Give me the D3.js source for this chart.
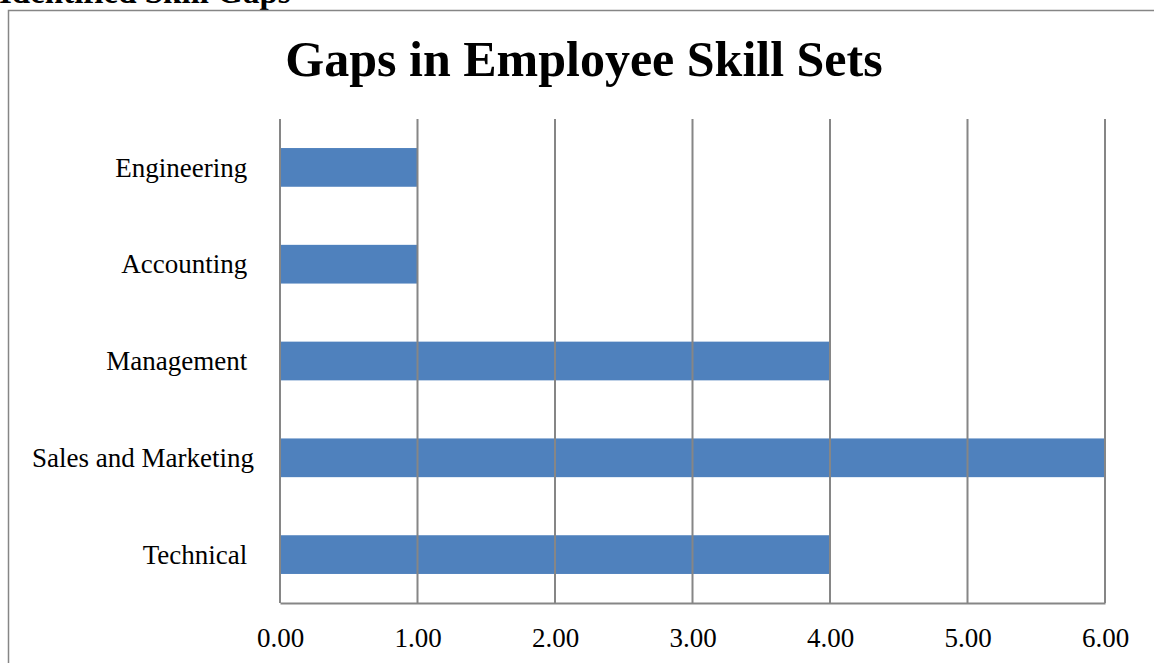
<!DOCTYPE html>
<html>
<head>
<meta charset="utf-8">
<script src="https://cdn.jsdelivr.net/npm/d3@7"></script>
<style>
  html, body { margin: 0; padding: 0; background: #fff; }
  svg { display: block; }
</style>
</head>
<body>
<svg id="chart" width="1154" height="663"></svg>
<script>
// Skill-gap counts by department, listed top to bottom
const categories = ["Engineering ", "Accounting ", "Management ", "Sales and Marketing", "Technical "];
const gapCounts = [1, 1, 4, 6, 4];
const tickValues = [0, 1, 2, 3, 4, 5, 6];

const svg = d3.select("#chart");
const serif = "'Liberation Serif', 'DejaVu Serif', serif";

// Section heading above the chart frame (partly cut off by the page top)
svg.append("text")
  .attr("x", -1).attr("y", 3)
  .attr("font-family", serif).attr("font-weight", "bold")
  .attr("font-size", 33).attr("fill", "#000")
  .text("Identified Skill Gaps");

// Chart frame
svg.append("rect")
  .attr("x", 8.5).attr("y", 10.5)
  .attr("width", 1160).attr("height", 700)
  .attr("fill", "#fff").attr("stroke", "#868686").attr("stroke-width", 1.5);

// Title
svg.append("text")
  .attr("x", 584).attr("y", 76)
  .attr("text-anchor", "middle")
  .attr("font-family", serif).attr("font-weight", "bold")
  .attr("font-size", 50).attr("fill", "#000")
  .text("Gaps in Employee Skill Sets");

const plot = { left: 280, right: 1105, top: 119, bottom: 603 };

const x = d3.scaleLinear().domain([0, 6]).range([plot.left, plot.right]);
const y = d3.scaleBand().domain(categories).range([plot.top, plot.bottom]).paddingInner(0.6).paddingOuter(0.3);

// Bars
svg.append("g").selectAll("rect")
  .data(categories)
  .join("rect")
  .attr("x", x(0))
  .attr("y", d => y(d))
  .attr("width", (d, i) => x(gapCounts[i]) - x(0))
  .attr("height", y.bandwidth())
  .attr("fill", "#4F81BD");

// Vertical gridlines, drawn over the bars
svg.append("g").selectAll("line")
  .data(tickValues)
  .join("line")
  .attr("x1", d => x(d)).attr("x2", d => x(d))
  .attr("y1", plot.top).attr("y2", plot.bottom)
  .attr("stroke", "#868686").attr("stroke-width", 2);

// Category axis on the left (labels only)
const yAxis = svg.append("g")
  .attr("transform", `translate(${plot.left - 26},0)`)
  .call(d3.axisLeft(y).tickSize(0).tickPadding(0));
yAxis.select(".domain").remove();
yAxis.selectAll("text")
  .attr("font-family", serif).attr("font-size", 27).attr("fill", "#000")
  .attr("dy", "0.34em")
  .style("white-space", "pre");

// Value axis at the bottom
const xAxis = svg.append("g")
  .attr("transform", `translate(0,${plot.bottom})`)
  .call(d3.axisBottom(x).tickValues(tickValues).tickFormat(d3.format(".2f")).tickSize(0).tickPadding(25));
xAxis.select(".domain").attr("stroke", "#868686").attr("stroke-width", 2);
xAxis.selectAll("text")
  .attr("font-family", serif).attr("font-size", 27).attr("fill", "#000");
</script>
</body>
</html>
